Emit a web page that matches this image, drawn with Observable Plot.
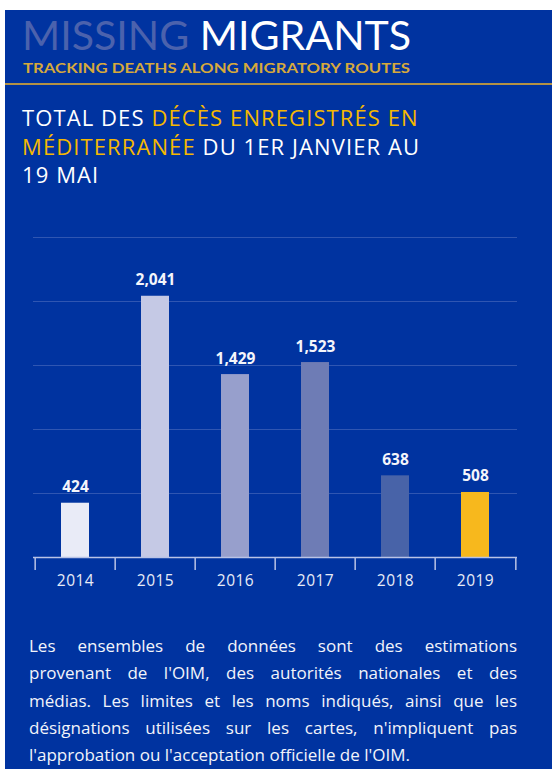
<!DOCTYPE html>
<html>
<head>
<meta charset="utf-8">
<script src="https://cdn.jsdelivr.net/npm/d3@7"></script>
<script src="https://cdn.jsdelivr.net/npm/@observablehq/plot@0.6"></script>
<style>
  html, body { margin: 0; padding: 0; background: #ffffff; }
  body { width: 552px; height: 769px; position: relative; overflow: hidden; }
  #panel { position: absolute; left: 5px; top: 10px; right: 0; bottom: 0; background: #0033a0; }
  .hdr { position: absolute; white-space: nowrap; font-family: Lato, sans-serif; transform-origin: 0 0; }
  #brand { left: 22px; top: 20.4px; font-size: 41px; line-height: 30px; color: #ffffff; }
  #brand .dim { color: #4b62ad; }
  #tagline { left: 23px; top: 63.4px; font-size: 14px; line-height: 10px; font-weight: bold; color: #d6a93c; }
  #goldline { position: absolute; left: 5px; right: 0; top: 83px; height: 2px; background: #b39245; }
  #title { position: absolute; left: 22px; top: 103px; width: 525px; font-family: "Open Sans", sans-serif;
           font-size: 22px; line-height: 28.5px; letter-spacing: 1.1px; color: #ffffff; white-space: nowrap; }
  #title .hl { color: #f5b800; }
  #chart { position: absolute; left: 0; top: 215px; }
  #caption { position: absolute; left: 29px; top: 632px; width: 488px; font-family: "Open Sans", sans-serif;
             font-size: 17px; line-height: 27.3px; color: #f2f4fa; }
  #caption .ln { text-align: justify; text-align-last: justify; white-space: nowrap; }
  #caption .ln.last { text-align: left; text-align-last: left; }
</style>
</head>
<body>
<div id="panel"></div>
<div id="brand" class="hdr"><span class="dim">MISSING</span> MIGRANTS</div>
<div id="tagline" class="hdr">TRACKING DEATHS ALONG MIGRATORY ROUTES</div>
<div id="goldline"></div>
<div id="title">TOTAL DES <span class="hl">DÉCÈS ENREGISTRÉS EN<br>MÉDITERRANÉE</span> DU 1ER JANVIER AU<br>19 MAI</div>
<div id="chart"></div>
<div id="caption">
  <div class="ln">Les ensembles de données sont des estimations</div>
  <div class="ln">provenant de l'OIM, des autorités nationales et des</div>
  <div class="ln">médias. Les limites et les noms indiqués, ainsi que les</div>
  <div class="ln">désignations utilisées sur les cartes, n'impliquent pas</div>
  <div class="ln last">l'approbation ou l'acceptation officielle de l'OIM.</div>
</div>
<script>
// ---- data ----
const years = ["2014", "2015", "2016", "2017", "2018", "2019"];
const deaths = [424, 2041, 1429, 1523, 638, 508];
const gridValues = [500, 1000, 1500, 2000, 2500];

// ---- style ----
const barColors = ["#e9ebf7", "#c5c9e5", "#979fcc", "#6e7cb5", "#4863a8", "#f7b81d"];

// fit header texts to the reference widths
function fitWidth(id, target) {
  const el = document.getElementById(id);
  const w = el.getBoundingClientRect().width;
  el.style.transform = `scaleX(${target / w})`;
}
fitWidth("brand", 389);
fitWidth("tagline", 387);

const data = years.map((year, i) => ({year, value: deaths[i]}));
const fmt = d3.format(",");

const W = 552, H = 380, mT = 22, mB = 38, mL = 33, mR = 35;
const step = (W - mL - mR) / years.length;
const plotH = H - mT - mB;

const chart = Plot.plot({
  width: W,
  height: H,
  marginTop: mT,
  marginBottom: mB,
  marginLeft: mL,
  marginRight: mR,
  style: {background: "transparent", fontFamily: "Open Sans, sans-serif", color: "#e8ecf7", overflow: "visible"},
  x: {domain: years, padding: 0, tickSize: 0, tickPadding: 17, label: null},
  y: {domain: [0, 2500], axis: null},
  color: {domain: years, range: barColors},
  marks: [
    Plot.ruleY(gridValues, {stroke: "#2f56b2", strokeWidth: 1}),
    Plot.barY(data, {x: "year", y: "value", fill: "year", insetLeft: 26, insetRight: 26}),
    Plot.ruleY([0], {stroke: "#b9c3e6", strokeWidth: 1.5}),
    Plot.ruleX(years, {x: d => d, dx: -step / 2, stroke: "#b9c3e6", strokeWidth: 1.5, insetTop: plotH, insetBottom: -13}),
    Plot.ruleX(years.slice(-1), {x: d => d, dx: step / 2, stroke: "#b9c3e6", strokeWidth: 1.5, insetTop: plotH, insetBottom: -13}),
    Plot.text(data, {x: "year", y: "value", text: d => fmt(d.value), dy: -11, lineAnchor: "bottom",
                     fill: "#f4f5fb", fontSize: 15.5, fontWeight: "bold"})
  ]
});
chart.querySelectorAll("g[aria-label='x-axis'] text, g[aria-label='x-axis tick label'] text").forEach(t => {
  t.setAttribute("font-size", "15.5");
  t.style.letterSpacing = "0.5px";
});
document.getElementById("chart").appendChild(chart);
</script>
</body>
</html>
